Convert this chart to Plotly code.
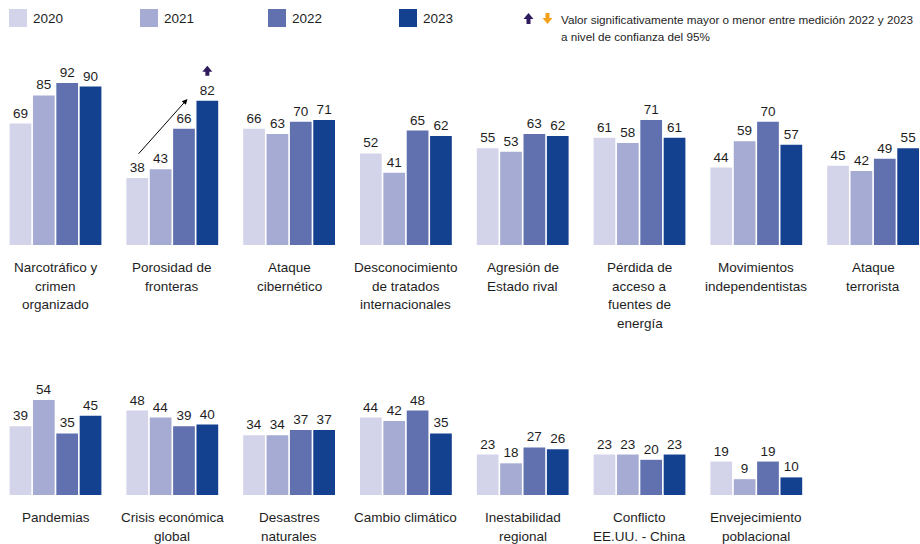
import plotly.graph_objects as go

# ---------------- data ----------------
years = ["2020", "2021", "2022", "2023"]
colors = ["#d3d4ea", "#a6abd4", "#6171b0", "#134190"]

cats_row1 = ["Narcotráfico y<br>crimen<br>organizado", "Porosidad de<br>fronteras", "Ataque<br>cibernético",
             "Desconocimiento<br>de tratados<br>internacionales", "Agresión de<br>Estado rival",
             "Pérdida de<br>acceso a<br>fuentes de<br>energía", "Movimientos<br>independentistas",
             "Ataque<br>terrorista"]
cats_row2 = ["Pandemias", "Crisis económica<br>global", "Desastres<br>naturales", "Cambio climático",
             "Inestabilidad<br>regional", "Conflicto<br>EE.UU. - China", "Envejecimiento<br>poblacional"]

v2020_r1 = [69, 38, 66, 52, 55, 61, 44, 45]
v2021_r1 = [85, 43, 63, 41, 53, 58, 59, 42]
v2022_r1 = [92, 66, 70, 65, 63, 71, 70, 49]
v2023_r1 = [90, 82, 71, 62, 62, 61, 57, 55]

v2020_r2 = [39, 48, 34, 44, 23, 23, 19]
v2021_r2 = [54, 44, 34, 42, 18, 23, 9]
v2022_r2 = [35, 39, 37, 48, 27, 20, 19]
v2023_r2 = [45, 40, 37, 35, 26, 23, 10]

# significant increase 2022->2023 (row, category index)
sig_up = [(1, 1)]

legend_note = "Valor significativamente mayor o menor entre medición 2022 y 2023<br>a nivel de confianza del 95%"

# ---------------- layout helpers ----------------
W, H = 920, 544
FONT = "Liberation Sans, Arial, sans-serif"
TXT = "#1e1e1e"


def px(x):
    return x / W


def py(y):
    return 1 - y / H


GC0, GSP = 55.5, 116.8     # first group centre / group spacing (px)
BASE = {1: 245, 2: 495}    # baselines (px)
yscale = 1.76              # px per unit

fig = go.Figure()

rows = [
    (1, "x", "y", cats_row1, [v2020_r1, v2021_r1, v2022_r1, v2023_r1]),
    (2, "x2", "y2", cats_row2, [v2020_r2, v2021_r2, v2022_r2, v2023_r2]),
]

for r, xa, ya, cats, series in rows:
    xs = list(range(len(cats)))
    for yr, col, vals in zip(years, colors, series):
        fig.add_trace(go.Bar(
            x=xs, y=vals, name=yr, marker=dict(color=col, line=dict(width=0)),
            text=[str(v) for v in vals], textposition="outside",
            textfont=dict(family=FONT, size=13.5, color=TXT),
            cliponaxis=False, xaxis=xa, yaxis=ya, showlegend=False,
            hoverinfo="skip"))
    for i, c in enumerate(cats):
        for k, line in enumerate(c.split("<br>")):
            fig.add_annotation(x=px(GC0 + GSP * i), y=py(BASE[r] + 22.5 + 18.7 * k),
                               xref="paper", yref="paper", text=line, showarrow=False,
                               xanchor="center", yanchor="middle",
                               font=dict(family=FONT, size=13.5, color=TXT))

x0 = -GC0 / GSP
x1 = (W - GC0) / GSP
ax_common = dict(range=[x0, x1], showgrid=False, zeroline=False, showticklabels=False,
                 ticks="", showline=False, fixedrange=True)
fig.update_layout(
    xaxis=dict(domain=[0, 1], anchor="y", **ax_common),
    xaxis2=dict(domain=[0, 1], anchor="y2", **ax_common),
    yaxis=dict(domain=[py(BASE[1]), py(BASE[1] - 100 * yscale)], range=[0, 100], visible=False, fixedrange=True),
    yaxis2=dict(domain=[py(BASE[2]), py(BASE[2] - 100 * yscale)], range=[0, 100], visible=False, fixedrange=True),
    barmode="group", bargap=0.2, bargroupgap=0.07,
    width=W, height=H, margin=dict(l=0, r=0, t=0, b=0),
    paper_bgcolor="white", plot_bgcolor="white",
    font=dict(family=FONT, color=TXT),
)

# ---------------- custom legend ----------------
leg_x = [9, 140, 268, 399]
for lx, yr, col in zip(leg_x, years, colors):
    fig.add_shape(type="rect", xref="paper", yref="paper",
                  x0=px(lx), x1=px(lx + 18), y0=py(27), y1=py(9),
                  fillcolor=col, line=dict(width=0))
    fig.add_annotation(xref="paper", yref="paper", x=px(lx + 22), y=py(18.5), text=yr,
                       showarrow=False, xanchor="left", yanchor="middle",
                       font=dict(family=FONT, size=13.5, color=TXT))


def block_arrow(cx, top, w, h, hh, sw, up=True):
    if up:
        pts = [(cx, top), (cx + w / 2, top + hh), (cx + sw / 2, top + hh), (cx + sw / 2, top + h),
               (cx - sw / 2, top + h), (cx - sw / 2, top + hh), (cx - w / 2, top + hh)]
    else:
        b = top + h
        pts = [(cx, b), (cx + w / 2, b - hh), (cx + sw / 2, b - hh), (cx + sw / 2, top),
               (cx - sw / 2, top), (cx - sw / 2, b - hh), (cx - w / 2, b - hh)]
    return "M " + " L ".join(f"{px(a):.5f},{py(b_):.5f}" for a, b_ in pts) + " Z"


fig.add_shape(type="path", xref="paper", yref="paper",
              path=block_arrow(528.5, 13, 10, 11, 6, 4, up=True),
              fillcolor="#2e1b5e", line=dict(width=0))
fig.add_shape(type="path", xref="paper", yref="paper",
              path=block_arrow(547.5, 13, 10, 11, 6, 4, up=False),
              fillcolor="#f5a01c", line=dict(width=0))
for k, line in enumerate(legend_note.split("<br>")):
    fig.add_annotation(xref="paper", yref="paper", x=px(559), y=py(19.5 + 17.5 * k), text=line,
                       showarrow=False, xanchor="left", yanchor="middle", align="left",
                       font=dict(family=FONT, size=11.7, color=TXT))

# ---------------- significance markers ----------------
slot = GSP * 0.8 / 4  # px per bar slot
for r, i in sig_up:
    vals = v2023_r1 if r == 1 else v2023_r2
    cx = GC0 + GSP * i + 1.5 * slot
    top = BASE[r] - vals[i] * yscale - 35
    fig.add_shape(type="path", xref="paper", yref="paper",
                  path=block_arrow(cx, top, 10, 10, 6, 4, up=True),
                  fillcolor="#2e1b5e", line=dict(width=0))

# trend arrow in "Porosidad de fronteras"
g = 1
fig.add_annotation(xref="x", yref="y", axref="x", ayref="y",
                   x=g + 0.13, y=v2023_r1[g] + 1,
                   ax=g - 1.5 * slot / GSP, ay=v2020_r1[g] + 13,
                   showarrow=True, arrowhead=2, arrowsize=1.1, arrowwidth=1, arrowcolor="#000000",
                   text="")

fig.write_html("out.html", config={"displayModeBar": False},
               post_script="document.body.style.margin='0';document.body.style.overflow='hidden';")
